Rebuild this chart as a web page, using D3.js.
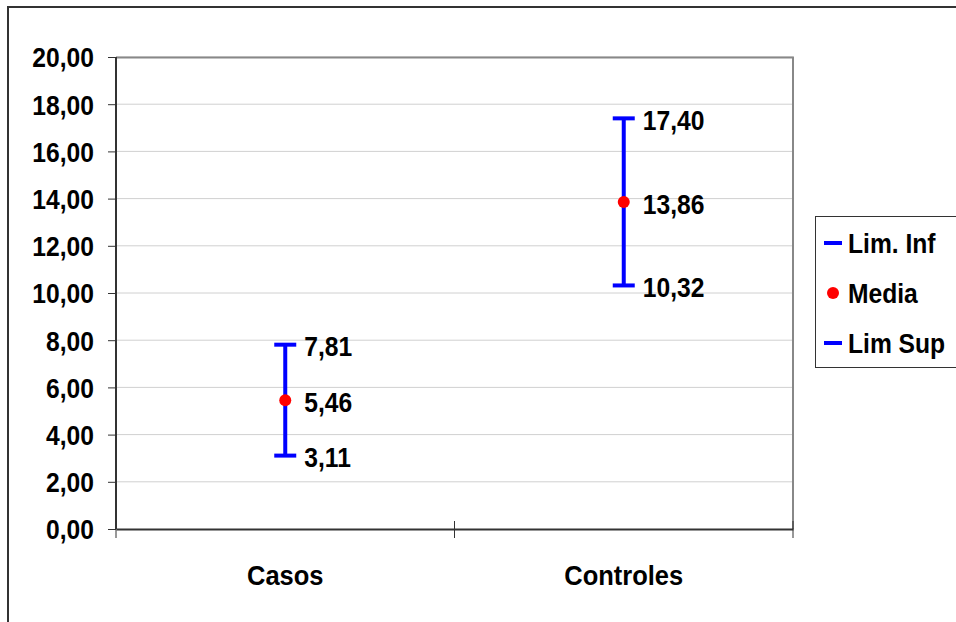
<!DOCTYPE html>
<html>
<head>
<meta charset="utf-8">
<script src="https://cdn.jsdelivr.net/npm/d3@7"></script>
<style>
  body { margin: 0; background: #fff; }
  svg text { font-family: "Liberation Sans", Arial, sans-serif; font-weight: bold; }
</style>
</head>
<body>
<div id="chart-area"></div>
<script>
// data
const groups = ["Casos", "Controles"];
const limInf = [3.11, 10.32];
const media = [5.46, 13.86];
const limSup = [7.81, 17.40];
const yTicks = [0, 2, 4, 6, 8, 10, 12, 14, 16, 18, 20];
const legendLabels = ["Lim. Inf", "Media", "Lim Sup"];

const margin = {top: 57, right: 163, bottom: 93, left: 116},
      width = 956 - margin.left - margin.right,
      height = 622 - margin.top - margin.bottom;

const fmt = v => v.toFixed(2).replace(".", ",");

// narrow the bold text a bit, the original uses a condensed face
function squeeze(sel, k) {
  sel.each(function() {
    const w = this.getComputedTextLength();
    d3.select(this).attr("textLength", w * k).attr("lengthAdjust", "spacingAndGlyphs");
  });
}

const root = d3.select("#chart-area")
  .append("svg")
    .attr("width", 956)
    .attr("height", 622);

// outer frame (only top and left visible)
root.append("path")
  .attr("d", "M8,622 L8,7 L956,7")
  .attr("fill", "none")
  .attr("stroke", "#333")
  .attr("stroke-width", 2);

const svg = root.append("g")
  .attr("transform", `translate(${margin.left},${margin.top})`);

const x = d3.scaleBand()
  .domain(groups)
  .range([0, width]);

const y = d3.scaleLinear()
  .domain([0, 20])
  .range([height, 0]);

// gridlines
svg.append("g")
  .selectAll("line")
  .data(yTicks.slice(1))
  .join("line")
    .attr("x1", 0)
    .attr("x2", width)
    .attr("y1", d => y(d))
    .attr("y2", d => y(d))
    .attr("stroke", "#d0d0d0")
    .attr("stroke-width", 1);

// plot border top/right
svg.append("path")
  .attr("d", `M0,0.5 L${width},0.5 L${width},${height}`)
  .attr("fill", "none")
  .attr("stroke", "#888")
  .attr("stroke-width", 2);

// Y axis
const yAxis = svg.append("g")
  .call(d3.axisLeft(y).tickValues(yTicks).tickFormat(fmt).tickSize(8).tickPadding(14));
yAxis.select(".domain").attr("stroke", "#333").attr("stroke-width", 2).attr("d", `M0,0V${height}`);
yAxis.selectAll(".tick line").attr("stroke", "#333");
yAxis.selectAll("text").attr("font-size", 28).attr("fill", "#000")
  .attr("font-family", null).attr("dy", "0.35em")
  .call(squeeze, 0.88);

// X axis
const xAxis = svg.append("g")
  .attr("transform", `translate(0,${height})`)
  .call(d3.axisBottom(x).tickSize(0).tickPadding(36));
xAxis.select(".domain").attr("stroke", "#333").attr("stroke-width", 2);
xAxis.selectAll("text").attr("font-size", 28).attr("fill", "#000").attr("font-family", null)
  .call(squeeze, 0.91);
// category separators
svg.append("g")
  .selectAll("line")
  .data([0, 1, 2])
  .join("line")
    .attr("x1", d => d * x.step())
    .attr("x2", d => d * x.step())
    .attr("y1", height - 8)
    .attr("y2", height + 9)
    .attr("stroke", "#333");

const cx = i => x(groups[i]) + x.bandwidth() / 2;
const idx = d3.range(groups.length);
const cap = 11;

// error bars
const bars = svg.append("g").selectAll("g").data(idx).join("g");
bars.append("line")
  .attr("x1", cx).attr("x2", cx)
  .attr("y1", i => y(limInf[i])).attr("y2", i => y(limSup[i]))
  .attr("stroke", "#0000ff").attr("stroke-width", 4);
bars.append("line")
  .attr("x1", i => cx(i) - cap).attr("x2", i => cx(i) + cap)
  .attr("y1", i => y(limInf[i])).attr("y2", i => y(limInf[i]))
  .attr("stroke", "#0000ff").attr("stroke-width", 4);
bars.append("line")
  .attr("x1", i => cx(i) - cap).attr("x2", i => cx(i) + cap)
  .attr("y1", i => y(limSup[i])).attr("y2", i => y(limSup[i]))
  .attr("stroke", "#0000ff").attr("stroke-width", 4);
bars.append("circle")
  .attr("cx", cx)
  .attr("cy", i => y(media[i]))
  .attr("r", 6)
  .attr("fill", "#ff0000");

// value labels
[limInf, media, limSup].forEach(series => {
  svg.append("g").selectAll("text").data(idx).join("text")
    .attr("x", i => cx(i) + 19)
    .attr("y", i => y(series[i]) + 2)
    .attr("dy", "0.35em")
    .attr("font-size", 28)
    .text(i => fmt(series[i]))
    .call(squeeze, 0.88);
});

// legend (box runs off the right edge like the original)
const legend = root.append("g").attr("transform", "translate(815,216)");
legend.append("rect")
  .attr("x", 0.5).attr("y", 0.5)
  .attr("width", 160).attr("height", 151)
  .attr("fill", "#fff")
  .attr("stroke", "#333");
legendLabels.forEach((lab, i) => {
  const row = legend.append("g").attr("transform", `translate(0,${27 + i * 50})`);
  if (lab === "Media") {
    row.append("circle").attr("cx", 18).attr("cy", 0).attr("r", 6).attr("fill", "#ff0000");
  } else {
    row.append("line").attr("x1", 9).attr("x2", 27).attr("y1", 0).attr("y2", 0)
      .attr("stroke", "#0000ff").attr("stroke-width", 4);
  }
  row.append("g")
    .attr("transform", "translate(33,0) scale(0.88,1)")
    .append("text")
      .attr("dy", "0.35em")
      .attr("font-size", 28)
      .text(lab);
});
</script>
</body>
</html>
